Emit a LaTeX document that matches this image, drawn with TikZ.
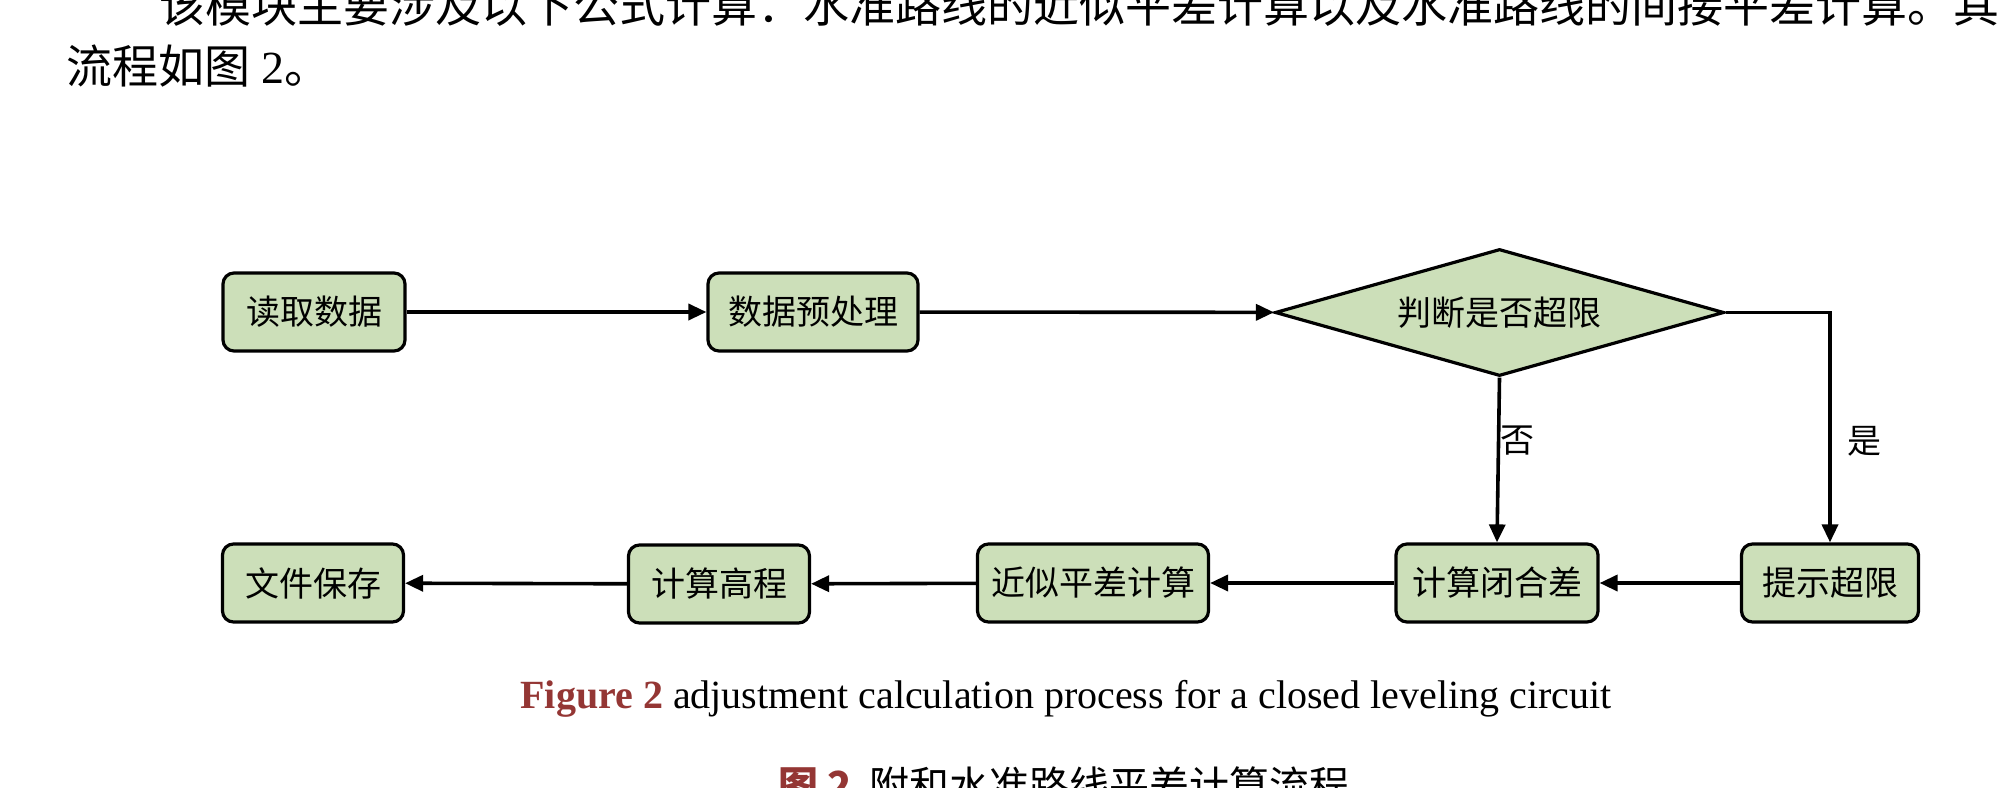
\documentclass[tikz,border=0pt]{standalone}
\usepackage{fontspec}
\setmainfont{Liberation Serif}
\newfontfamily\cjk{Noto Sans CJK SC}
\usetikzlibrary{shapes.geometric,arrows.meta,positioning}
\definecolor{boxgreen}{HTML}{CCDFB9}
\definecolor{capred}{HTML}{943634}

\begin{document}
\begin{tikzpicture}
[x=1pt, y=-1pt,
stepnode/.style={rectangle, rounded corners=11pt, draw, line width=3.2pt, fill=boxgreen, minimum height=78pt, inner sep=0pt, font=\cjk\fontsize{34}{34}\selectfont},
judgenode/.style={diamond, draw, line width=3.2pt, fill=boxgreen, aspect=3.54, minimum width=449pt, minimum height=127pt, inner sep=0pt, font=\cjk\fontsize{34}{34}\selectfont},
flow/.style={line width=3.6pt, -{Triangle[length=18pt,width=16pt]}},
textline/.style={anchor=west, inner sep=0pt, font=\cjk\fontsize{46}{46}\selectfont},
]
\useasboundingbox (0,0) rectangle (1999,787);
%body text
\node[textline](para1) at (159,5) {该模块主要涉及以下公式计算：水准路线的近似平差计算以及水准路线的间接平差计算。其闭};
\node[textline](para2) at (66,66) {流程如图{\rmfamily\ 2}。};
%row 1
\node[stepnode, minimum width=182pt](read) at (314,312) {读取数据};
\node[stepnode, minimum width=210pt](pre) at (813,312) {数据预处理};
\node[judgenode](judge) at (1499.5,312.5) {判断是否超限};
%row 2
\node[stepnode, minimum width=177pt](warn) at (1830,583) {提示超限};
\node[stepnode, minimum width=202pt](closure) at (1497,583) {计算闭合差};
\node[stepnode, minimum width=231pt](adjust) at (1093,583) {近似平差计算};
\node[stepnode, minimum width=181pt](height) at (719,584) {计算高程};
\node[stepnode, minimum width=181pt](save) at (313,583) {文件保存};
%labels
\node[font=\cjk\fontsize{34}{34}\selectfont](no) at (1517,441) {否};
\node[font=\cjk\fontsize{34}{34}\selectfont](yes) at (1864,441) {是};
%draw line
\draw[flow] (read) -- (pre);
\draw[flow] (pre) -- (judge);
\draw[flow] (judge.east) -| (warn.north);
\draw[flow] (judge.south) -- (closure.north);
\draw[flow] (warn) -- (closure);
\draw[flow] (closure) -- (adjust);
\draw[flow] (adjust) -- (height);
\draw[flow] (height) -- (save);
%caption
\node[anchor=base, inner sep=0pt, font=\fontsize{40}{40}\selectfont](capen) at (1066,708) {\textcolor{capred}{\bfseries Figure 2} adjustment calculation process for a closed leveling circuit};
\node[anchor=west, inner sep=0pt, font=\cjk\fontsize{40}{40}\selectfont](capcn) at (778,786) {\textcolor{capred}{\bfseries 图 2}\ \ 附和水准路线平差计算流程};
\end{tikzpicture}
\end{document}
